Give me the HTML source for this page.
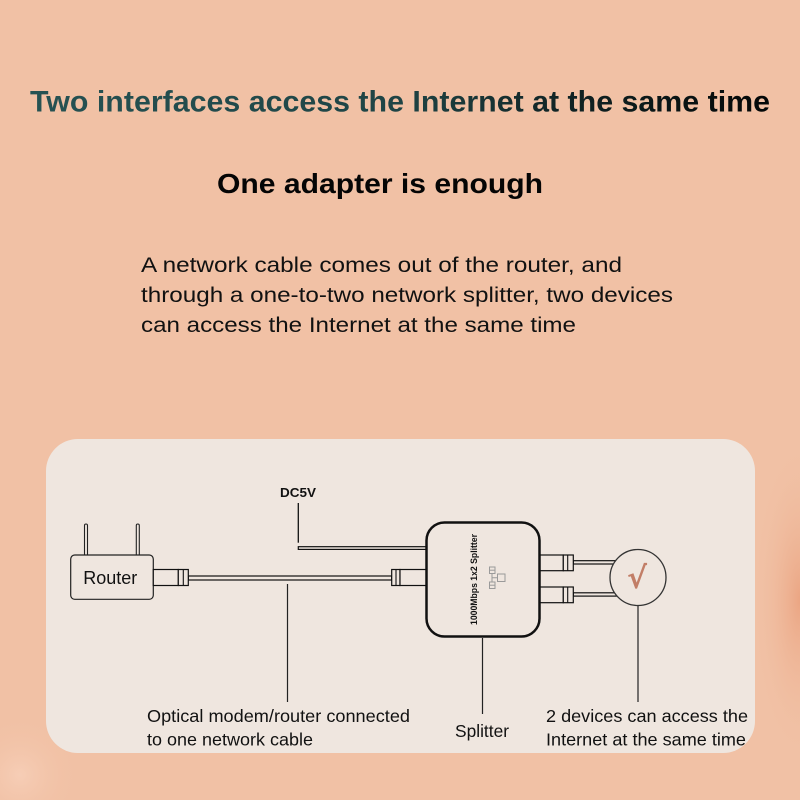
<!DOCTYPE html>
<html>
<head>
<meta charset="utf-8">
<style>
  html,body{margin:0;padding:0;background:#f1c1a5;}
  svg{display:block;}
  text{font-family:"Liberation Sans","DejaVu Sans",Arial,sans-serif;}
</style>
</head>
<body>
<svg width="800" height="800" viewBox="0 0 800 800" xmlns="http://www.w3.org/2000/svg">
  <defs>
    <linearGradient id="tg" x1="30" y1="0" x2="770" y2="0" gradientUnits="userSpaceOnUse">
      <stop offset="0" stop-color="#265253"/>
      <stop offset="0.5" stop-color="#1f4445"/>
      <stop offset="0.72" stop-color="#112425"/>
      <stop offset="1" stop-color="#040707"/>
    </linearGradient>
    <radialGradient id="rb" cx="800" cy="600" r="160" gradientUnits="userSpaceOnUse" gradientTransform="translate(800 600) scale(0.3 1) translate(-800 -600)">
      <stop offset="0" stop-color="#eaa27f" stop-opacity="0.9"/>
      <stop offset="1" stop-color="#f1c1a5" stop-opacity="0"/>
    </radialGradient>
    <radialGradient id="lb" cx="20" cy="775" r="60" gradientUnits="userSpaceOnUse">
      <stop offset="0" stop-color="#f7cfb8" stop-opacity="0.9"/>
      <stop offset="1" stop-color="#f1c1a5" stop-opacity="0"/>
    </radialGradient>
  </defs>

  <!-- background -->
  <rect x="0" y="0" width="800" height="800" fill="#f1c1a5"/>
  <rect x="700" y="420" width="100" height="360" fill="url(#rb)"/>
  <rect x="0" y="700" width="100" height="100" fill="url(#lb)"/>

  <!-- headings -->
  <text x="30" y="111.5" font-size="30" font-weight="bold" fill="url(#tg)" textLength="740" lengthAdjust="spacingAndGlyphs">Two interfaces access the Internet at the same time</text>
  <text x="217" y="193" font-size="27.5" font-weight="bold" fill="#050505" textLength="326" lengthAdjust="spacingAndGlyphs">One adapter is enough</text>

  <!-- paragraph -->
  <g font-size="21" fill="#111">
    <text x="141" y="272" textLength="481" lengthAdjust="spacingAndGlyphs">A network cable comes out of the router, and</text>
    <text x="141" y="302" textLength="532" lengthAdjust="spacingAndGlyphs">through a one-to-two network splitter, two devices</text>
    <text x="141" y="332" textLength="435" lengthAdjust="spacingAndGlyphs">can access the Internet at the same time</text>
  </g>

  <!-- panel -->
  <rect x="46" y="439" width="709" height="314" rx="32" ry="32" fill="#efe6df"/>

  <!-- DC5V -->
  <text x="280" y="497" font-size="13" font-weight="bold" fill="#111" textLength="36" lengthAdjust="spacingAndGlyphs">DC5V</text>
  <line x1="298.3" y1="503" x2="298.3" y2="542.7" stroke="#111" stroke-width="1.3"/>
  <rect x="298.3" y="546.7" width="130" height="2.7" fill="#efe6df" stroke="#111" stroke-width="1.2"/>

  <!-- router -->
  <rect x="84.5" y="524" width="3" height="32" rx="1.5" fill="#efe6df" stroke="#222" stroke-width="1.1"/>
  <rect x="136.3" y="524" width="3" height="32" rx="1.5" fill="#efe6df" stroke="#222" stroke-width="1.1"/>
  <rect x="70.7" y="555" width="82.6" height="44.3" rx="4" fill="#efe6df" stroke="#222" stroke-width="1.2"/>
  <text x="83.3" y="584" font-size="18" fill="#111" textLength="54" lengthAdjust="spacingAndGlyphs">Router</text>

  <!-- router cable -->
  <rect x="188.3" y="576" width="203.4" height="4" fill="#efe6df" stroke="#111" stroke-width="1.2"/>
  <rect x="153.3" y="569.5" width="25" height="16" fill="#efe6df" stroke="#111" stroke-width="1.2"/>
  <rect x="178.3" y="569.5" width="10" height="16" fill="#efe6df" stroke="#111" stroke-width="1.2"/>
  <line x1="183.3" y1="569.5" x2="183.3" y2="585.5" stroke="#111" stroke-width="1.1"/>

  <!-- splitter-side connector -->
  <rect x="391.7" y="569.5" width="8.3" height="16" fill="#efe6df" stroke="#111" stroke-width="1.2"/>
  <line x1="396" y1="569.5" x2="396" y2="585.5" stroke="#111" stroke-width="1.1"/>
  <rect x="400" y="569.5" width="28" height="16" fill="#efe6df" stroke="#111" stroke-width="1.2"/>

  <!-- right cables -->
  <rect x="573.3" y="560.7" width="45" height="3.3" fill="#efe6df" stroke="#111" stroke-width="1.2"/>
  <rect x="573.3" y="592.8" width="45" height="3.3" fill="#efe6df" stroke="#111" stroke-width="1.2"/>
  <rect x="538" y="555" width="25.3" height="15.7" fill="#efe6df" stroke="#111" stroke-width="1.2"/>
  <rect x="563.3" y="555" width="10" height="15.7" fill="#efe6df" stroke="#111" stroke-width="1.2"/>
  <line x1="567.7" y1="555" x2="567.7" y2="570.7" stroke="#111" stroke-width="1.1"/>
  <rect x="538" y="587" width="25.3" height="15.7" fill="#efe6df" stroke="#111" stroke-width="1.2"/>
  <rect x="563.3" y="587" width="10" height="15.7" fill="#efe6df" stroke="#111" stroke-width="1.2"/>
  <line x1="567.7" y1="587" x2="567.7" y2="602.7" stroke="#111" stroke-width="1.1"/>

  <!-- splitter box -->
  <rect x="426.5" y="522.5" width="113" height="114" rx="18" ry="18" fill="#efe6df" stroke="#111" stroke-width="2.5"/>
  <text x="0" y="0" transform="translate(477 579.5) rotate(-90)" text-anchor="middle" font-size="9.5" font-weight="bold" fill="#111" textLength="91" lengthAdjust="spacingAndGlyphs">1000Mbps 1x2 Splitter</text>
  <!-- ethernet icon -->
  <g fill="none" stroke="#9a9a9a" stroke-width="1">
    <rect x="489.5" y="567" width="5.5" height="6.5"/>
    <rect x="489.5" y="582" width="5.5" height="6.5"/>
    <rect x="497.5" y="574" width="7.5" height="7.5"/>
    <polyline points="492,573.5 492,577.7 497.5,577.7"/>
    <polyline points="492,582 492,577.7"/>
    <line x1="489.5" y1="570.2" x2="495" y2="570.2"/>
    <line x1="489.5" y1="585.2" x2="495" y2="585.2"/>
  </g>

  <!-- device circle -->
  <circle cx="638" cy="577.5" r="28" fill="#efe6df" stroke="#333" stroke-width="1.3"/>
  <text x="637" y="588" text-anchor="middle" font-size="30" font-weight="bold" fill="#c27e67" style="font-family:'DejaVu Sans','Liberation Sans',sans-serif;">√</text>

  <!-- pointer lines -->
  <g stroke="#222" stroke-width="1.2">
    <line x1="287.5" y1="584" x2="287.5" y2="702"/>
    <line x1="482.5" y1="638" x2="482.5" y2="714"/>
    <line x1="638" y1="606" x2="638" y2="702"/>
  </g>

  <!-- labels -->
  <g font-size="17.5" fill="#111">
    <text x="147" y="722" textLength="263" lengthAdjust="spacingAndGlyphs">Optical modem/router connected</text>
    <text x="147" y="745.5" textLength="166" lengthAdjust="spacingAndGlyphs">to one network cable</text>
    <text x="455" y="737" textLength="54" lengthAdjust="spacingAndGlyphs">Splitter</text>
    <text x="546" y="722" textLength="202" lengthAdjust="spacingAndGlyphs">2 devices can access the</text>
    <text x="546" y="745.5" textLength="200" lengthAdjust="spacingAndGlyphs">Internet at the same time</text>
  </g>
</svg>
</body>
</html>
